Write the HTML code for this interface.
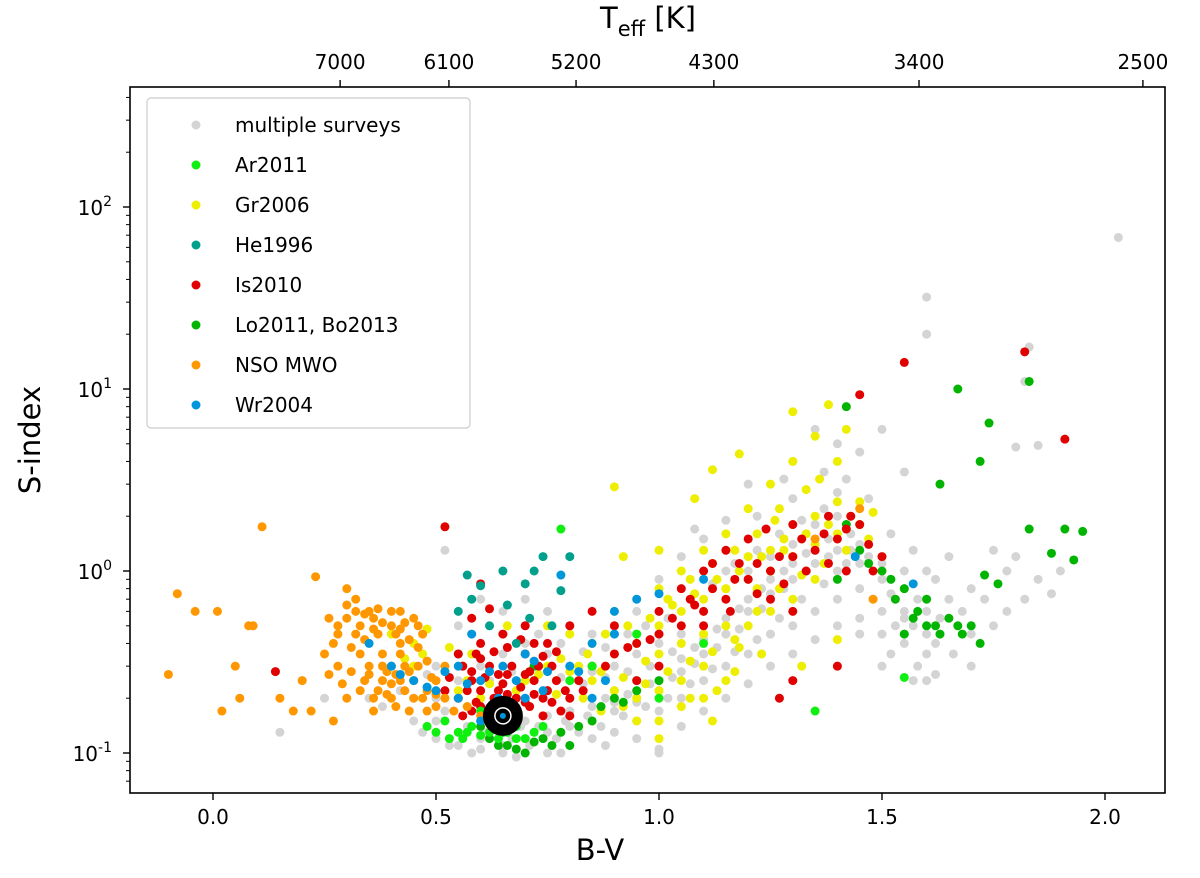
<!DOCTYPE html>
<html><head><meta charset="utf-8"><style>
html,body{margin:0;padding:0;background:#fff;}
svg{display:block;font-family:"DejaVu Sans","Liberation Sans",sans-serif;}
</style></head><body>
<svg id="chart" width="1200" height="878">
<rect x="130" y="87" width="1035" height="706" fill="#fff" stroke="#000" stroke-width="1.6"/>
<g id="marks"></g>
<g id="axes"></g>
<text x="600" y="860" font-size="29" text-anchor="middle">B-V</text>
<text x="0" y="0" font-size="29" text-anchor="middle" transform="translate(40,440) rotate(-90)">S-index</text>
<text x="648" y="28" font-size="29" text-anchor="middle">T<tspan font-size="21" dy="8">eff</tspan><tspan dy="-8"> [K]</tspan></text>
<g id="legend">
<rect x="147" y="98" width="323" height="330" rx="4" fill="#fff" fill-opacity="0.85" stroke="#ccc" stroke-width="1.2"/>
</g>
</svg>
<script>
const xTicks=[0.0,0.5,1.0,1.5,2.0];
const xTickLabels=["0.0","0.5","1.0","1.5","2.0"];
const yTickExps=[-1,0,1,2];
const topTickBV=[0.285,0.529,0.814,1.123,1.583,2.085];
const topTickLabels=["7000","6100","5200","4300","3400","2500"];
const legendLabels=["multiple surveys","Ar2011","Gr2006","He1996","Is2010","Lo2011, Bo2013","NSO MWO","Wr2004"];
const gray="0.45,0.2;0.5,0.15;0.55,0.13;0.6,0.12;0.65,0.11;0.7,0.12;0.75,0.13;0.8,0.14;0.85,0.15;0.9,0.17;0.95,0.19;1.0,0.22;1.05,0.28;1.1,0.35;1.15,0.45;1.2,0.6;1.25,0.75;1.3,0.9;1.35,1.1;1.4,1.3;1.45,1.4;1.5,1.1;1.55,0.8;1.6,0.6;1.65,0.7;1.55,0.4;1.6,0.35;1.5,0.6;1.45,0.8;1.4,0.7;1.35,0.6;1.3,0.5;1.25,0.45;1.2,0.35;1.15,0.3;1.1,0.25;1.05,0.2;1.0,0.17;0.95,0.15;0.9,0.13;0.85,0.12;0.8,0.11;0.75,0.1;0.7,0.1;0.65,0.1;0.6,0.105;0.55,0.11;0.5,0.12;0.45,0.15;0.6,0.3;0.65,0.35;0.7,0.4;0.75,0.35;0.8,0.3;0.85,0.28;0.9,0.3;0.95,0.35;1.0,0.4;1.05,0.45;1.1,0.6;1.15,0.8;1.2,1.0;1.25,1.2;1.3,1.4;1.35,1.8;1.4,2.0;1.45,1.8;1.0,0.9;1.05,1.2;1.1,1.5;1.15,1.0;0.7,0.2;0.75,0.22;0.8,0.2;0.85,0.2;0.9,0.22;0.95,0.25;0.65,0.18;0.6,0.2;0.55,0.25;0.5,0.3;0.55,0.5;0.6,0.7;0.65,0.6;0.52,1.3;1.6,1.0;1.7,0.8;1.75,0.5;1.8,1.2;1.82,0.7;1.85,0.9;1.9,1.0;1.6,32;1.6,20;1.83,17;1.82,11;1.8,4.8;1.85,4.9;2.03,68;1.55,3.5;1.45,4.5;1.5,6;1.4,5;1.35,6;1.3,4;1.2,3;1.62,0.27;1.58,0.3;1.45,0.45;1.0,0.1;1.0,0.105;1.4,2.7;1.3,2.5;0.7,0.7;0.75,0.6;0.8,0.5;0.85,0.45;0.9,0.5;0.95,0.6;0.6,0.15;0.65,0.15;0.7,0.15;0.75,0.16;0.8,0.17;0.85,0.18;0.9,0.19;1.0,0.25;1.05,0.33;1.1,0.42;1.15,0.55;1.2,0.7;1.25,0.9;1.3,1.1;1.35,1.3;1.4,1.0;1.45,1.1;1.5,0.9;1.55,0.6;1.6,0.45;1.5,0.45;1.55,0.55;0.5,0.2;0.45,0.25;0.4,0.3;0.35,0.2;0.15,0.13;0.25,0.2;0.2,0.25;0.52,0.17;0.57,0.14;0.61,0.13;0.63,0.16;0.67,0.12;0.69,0.14;0.71,0.11;0.73,0.14;0.77,0.12;0.79,0.15;0.82,0.13;0.84,0.16;0.87,0.14;0.88,0.2;0.92,0.16;0.93,0.21;0.97,0.18;0.98,0.24;1.02,0.2;1.03,0.26;1.07,0.24;1.08,0.31;1.12,0.29;1.13,0.38;1.17,0.36;1.18,0.48;1.22,0.42;1.23,0.62;1.27,0.55;1.28,0.8;1.32,0.7;1.33,1.0;1.37,0.85;1.38,1.2;1.42,1.1;1.43,1.6;1.47,1.2;1.48,0.7;1.52,0.75;1.53,0.5;1.57,0.5;1.58,0.7;1.62,0.4;1.63,0.55;1.66,0.35;1.68,0.6;1.7,0.45;1.73,0.7;1.78,1.0;1.52,0.35;1.57,0.25;1.6,0.25;0.72,0.3;0.78,0.26;0.83,0.24;0.88,0.26;0.93,0.28;0.98,0.3;1.03,0.36;1.08,0.38;1.13,0.48;1.18,0.62;1.23,0.8;1.28,1.0;1.33,1.25;1.38,1.5;1.43,1.3;0.62,0.25;0.67,0.28;0.73,0.45;0.78,0.4;0.83,0.36;0.88,0.38;0.93,0.45;0.97,0.5;1.02,0.55;1.07,0.7;1.12,0.85;1.17,1.1;1.22,1.3;1.27,1.6;1.32,1.9;1.37,2.2;0.48,0.27;0.42,0.22;0.38,0.18;0.47,0.13;0.53,0.11;0.58,0.1;0.68,0.095;0.78,0.1;0.88,0.11;0.95,0.12;1.05,0.14;1.1,0.17;1.15,0.2;1.2,0.24;1.25,0.3;1.3,0.35;1.35,0.42;1.4,0.5;1.45,0.55;1.5,0.3;1.55,1.0;1.47,2.5;1.42,3.2;1.37,3.5;1.28,3.2;1.22,2.0;1.15,1.9;1.08,1.7;1.65,1.2;1.75,1.3;1.78,0.6;1.88,0.75;1.62,0.9;1.7,0.3;1.52,1.6;1.57,1.3";
const ar2011="0.5,0.13;0.55,0.13;0.58,0.14;0.62,0.13;0.66,0.13;0.7,0.12;0.74,0.14;0.56,0.12;0.52,0.15;0.65,0.17;0.8,0.25;0.85,0.3;0.95,0.45;0.78,1.7;1.0,0.2;1.35,0.17;1.55,0.26;1.1,0.4;0.6,0.17;0.68,0.14;0.53,0.12;0.57,0.13;0.6,0.125;0.64,0.12;0.68,0.12;0.72,0.13;0.48,0.14";
const gr2006="0.45,0.3;0.5,0.25;0.55,0.22;0.6,0.2;0.7,0.25;0.75,0.3;0.8,0.28;0.85,0.25;0.9,0.22;0.95,0.2;1.0,0.22;1.05,0.25;1.1,0.3;0.9,0.35;0.95,0.4;1.0,0.5;1.05,0.6;1.1,0.7;1.15,0.8;1.2,0.9;1.25,1.0;1.3,1.2;1.35,1.4;1.4,1.6;1.45,1.8;1.3,0.7;1.25,0.6;1.2,0.5;1.15,0.5;1.1,0.45;1.05,0.4;1.0,0.35;0.85,0.4;0.8,0.45;0.75,0.5;0.9,0.6;1.0,0.8;1.05,1.0;1.1,1.3;1.15,1.6;1.2,2.2;1.25,3;1.3,4;1.35,5.5;1.3,7.5;1.38,8.2;1.42,6;1.4,4;1.18,4.4;1.12,3.6;1.08,2.5;1.0,1.3;0.92,1.2;0.9,2.9;1.0,0.15;1.05,0.18;1.1,0.2;1.15,0.25;0.95,0.15;0.84,0.35;0.45,0.4;0.4,0.45;1.48,2.1;1.45,2.4;1.35,2.0;1.2,1.2;1.28,1.5;1.22,0.8;1.4,0.42;1.32,0.3;1.12,0.15;1.0,0.12;0.58,0.35;0.66,0.5;1.35,0.9;0.47,0.35;0.52,0.28;0.57,0.25;0.62,0.24;0.68,0.22;0.73,0.27;0.78,0.33;0.82,0.3;0.87,0.28;0.92,0.26;0.97,0.24;1.02,0.28;1.07,0.32;1.12,0.36;1.17,0.42;1.22,0.6;1.27,0.8;1.32,0.95;1.37,1.1;1.42,1.3;1.47,1.5;0.88,0.45;0.93,0.5;0.98,0.55;1.03,0.65;1.08,0.75;1.13,0.9;1.18,1.0;1.23,1.2;1.28,1.3;1.33,1.6;1.38,1.8;1.43,2.0;1.27,2.2;1.22,1.6;1.17,1.3;1.12,1.1;1.07,0.9;1.02,0.7;0.97,0.32;0.92,0.18;0.87,0.17;1.07,0.2;1.13,0.22;1.17,0.28;1.23,0.35;1.18,0.38;0.43,0.33;0.48,0.48;0.53,0.38;1.4,2.4;1.33,2.8;1.26,1.9;1.36,3.2;1.25,1.3;0.83,0.2;0.77,0.21";
const he1996="0.55,0.6;0.58,0.7;0.62,0.5;0.6,0.83;0.7,0.85;0.72,1.0;0.74,1.2;0.65,1.0;0.78,0.78;0.8,1.2;0.68,0.4;0.76,0.5;0.57,0.95;0.66,0.65;0.71,0.55";
const is2010="0.55,0.2;0.58,0.25;0.6,0.18;0.62,0.3;0.64,0.22;0.66,0.27;0.68,0.2;0.7,0.35;0.72,0.25;0.74,0.2;0.76,0.3;0.78,0.17;0.6,0.4;0.65,0.45;0.7,0.5;0.62,0.15;0.68,0.15;0.74,0.16;0.8,0.2;0.56,0.3;0.52,0.22;0.82,0.25;0.85,0.3;0.9,0.35;0.95,0.4;1.0,0.45;1.05,0.5;1.1,0.6;1.15,0.7;1.2,0.9;1.25,1.0;1.3,1.2;1.35,1.3;1.4,1.5;1.45,1.8;1.1,1.0;1.15,1.3;1.2,1.5;1.25,0.7;1.3,0.6;1.0,0.6;1.05,0.8;1.1,0.5;0.9,0.5;0.85,0.6;0.8,0.5;0.75,0.4;0.6,0.85;0.62,0.62;0.52,1.75;0.14,0.28;0.7,0.19;0.66,0.19;0.72,0.4;1.55,14;1.82,16;1.91,5.3;1.45,9.3;1.27,0.2;1.3,0.25;1.4,0.3;1.5,1.2;1.38,2.0;1.42,1.0;1.18,1.1;1.0,0.3;0.95,0.25;0.58,0.17;0.6,0.22;0.64,0.18;0.56,0.16;0.59,0.19;0.61,0.26;0.63,0.2;0.65,0.24;0.67,0.3;0.69,0.23;0.71,0.18;0.73,0.3;0.75,0.22;0.77,0.25;0.79,0.22;0.57,0.22;0.6,0.33;0.63,0.36;0.66,0.38;0.69,0.42;0.71,0.28;0.74,0.34;0.77,0.36;0.53,0.26;0.55,0.35;0.58,0.28;0.64,0.27;0.72,0.21;0.8,0.16;0.83,0.22;0.88,0.3;0.93,0.38;0.98,0.42;1.03,0.55;1.08,0.65;1.12,0.8;1.17,0.9;1.22,1.1;1.27,1.2;1.32,1.5;1.37,1.6;1.42,1.7;1.47,1.4;1.22,0.75;1.28,0.85;1.33,1.0;1.38,1.1;1.16,0.6;1.12,1.1;1.07,0.7;1.24,1.7;1.3,1.8;1.43,2.0;1.48,1.0;0.62,0.17;0.68,0.17;0.76,0.19;0.66,0.21;0.59,0.35;0.7,0.27;0.58,0.55";
const lo2011="0.62,0.12;0.66,0.11;0.7,0.1;0.74,0.12;0.78,0.13;0.8,0.11;0.85,0.15;0.9,0.2;0.95,0.22;1.0,0.25;1.42,1.8;1.45,1.3;1.5,1.0;1.52,0.9;1.55,0.8;1.58,0.6;1.6,0.5;1.62,0.5;1.65,0.55;1.7,0.5;1.72,0.4;1.73,0.95;1.76,0.85;1.72,4.0;1.74,6.5;1.67,10;1.83,11;1.63,3.0;1.83,1.7;1.88,1.25;1.91,1.7;1.93,1.15;1.95,1.65;1.42,8.0;1.6,0.7;1.4,0.9;0.55,0.35;0.72,0.3;1.55,0.45;1.68,0.45;0.64,0.11;0.68,0.105;0.72,0.115;0.76,0.11;0.82,0.14;0.87,0.18;0.92,0.19;1.47,1.1;1.53,0.7;1.57,0.55;1.63,0.45;1.67,0.5;0.6,0.14;0.65,0.13";
const nso="-0.1,0.27;-0.08,0.75;-0.04,0.6;0.01,0.6;0.02,0.17;0.05,0.3;0.06,0.2;0.08,0.5;0.09,0.5;0.11,1.75;0.15,0.2;0.2,0.25;0.22,0.17;0.23,0.93;0.25,0.35;0.28,0.5;0.3,0.8;0.32,0.7;0.3,0.55;0.33,0.5;0.35,0.6;0.37,0.45;0.4,0.5;0.42,0.4;0.45,0.55;0.35,0.3;0.38,0.35;0.4,0.3;0.42,0.25;0.45,0.2;0.48,0.22;0.5,0.18;0.44,0.17;0.38,0.25;0.33,0.22;0.3,0.2;0.27,0.15;0.36,0.2;0.4,0.2;0.46,0.3;0.5,0.25;0.55,0.2;0.52,0.3;0.34,0.42;0.28,0.3;0.26,0.55;0.36,0.55;0.42,0.48;0.47,0.45;0.31,0.38;0.39,0.28;0.43,0.22;0.6,0.16;1.45,2.2;1.35,1.5;1.48,0.7;0.18,0.17;0.4,0.6;0.28,0.45;0.3,0.65;0.32,0.45;0.34,0.58;0.36,0.48;0.38,0.52;0.41,0.45;0.43,0.52;0.44,0.42;0.46,0.5;0.33,0.35;0.35,0.27;0.37,0.22;0.39,0.21;0.41,0.27;0.43,0.3;0.45,0.25;0.47,0.2;0.49,0.26;0.41,0.18;0.36,0.17;0.48,0.17;0.5,0.21;0.44,0.28;0.4,0.24;0.38,0.3;0.34,0.25;0.31,0.28;0.29,0.24;0.26,0.27;0.42,0.35;0.46,0.38;0.48,0.32;0.52,0.2;0.54,0.17;0.57,0.18;0.32,0.6;0.37,0.62;0.42,0.6;0.27,0.4";
const wr2004="0.35,0.4;0.4,0.3;0.45,0.25;0.5,0.22;0.55,0.2;0.6,0.25;0.65,0.3;0.7,0.35;0.75,0.28;0.8,0.3;0.85,0.4;0.9,0.6;0.95,0.7;0.85,0.2;0.6,0.15;0.7,0.2;0.58,0.45;0.78,0.95;1.0,0.75;1.1,0.9;1.44,1.2;1.57,0.85;0.66,0.17;0.88,0.25;0.55,0.3;0.62,0.28;0.68,0.25;0.72,0.32;0.57,0.24;0.52,0.28;0.48,0.23;0.42,0.27;0.64,0.2;0.74,0.22;0.82,0.28;0.9,0.45";
const sunBV=0.65, sunS=0.16;

const NS="http://www.w3.org/2000/svg";
const X0=213, XS=446, Y0=571, YD=182;
function xs(v){return X0+v*XS;}
function ys(s){return Y0-Math.log10(s)*YD;}
function mk(tag,attrs,parent){const e=document.createElementNS(NS,tag);for(const k in attrs)e.setAttribute(k,attrs[k]);parent.appendChild(e);return e;}
function parse(str){return str.split(";").map(p=>p.split(",").map(Number));}
const marks=document.getElementById("marks"), axes=document.getElementById("axes");
const series=[["multiple-surveys",gray,"#d4d4d4"],["gr2006",gr2006,"#eeee00"],["lo2011-bo2013",lo2011,"#00b400"],["is2010",is2010,"#e00000"],["he1996",he1996,"#00a08c"],["ar2011",ar2011,"#10f010"],["nso-mwo",nso,"#ff9800"],["wr2004",wr2004,"#0096dc"]];
for(const [name,data,col] of series){
  const g=mk("g",{},marks);
  
  
  for(const [b,s] of parse(data)){
    const c=mk("circle",{cx:xs(b),cy:ys(s),r:4.5,fill:col},g);
    
    
  }
}
const sun=mk("g",{},marks);


mk("circle",{cx:xs(sunBV),cy:ys(sunS),r:20,fill:"#000"},sun);
mk("circle",{cx:xs(sunBV),cy:ys(sunS),r:8,fill:"none",stroke:"#fff","stroke-width":1.5},sun);
mk("circle",{cx:xs(sunBV),cy:ys(sunS),r:3,fill:"#0096dc"},sun);

xTicks.forEach((v,i)=>{
  mk("line",{x1:xs(v),x2:xs(v),y1:793,y2:800,stroke:"#000","stroke-width":1.4},axes);
  const t=mk("text",{x:xs(v),y:824,"font-size":20,"text-anchor":"middle"},axes);
  t.textContent=xTickLabels[i];
  
  
});
topTickBV.forEach((v,i)=>{
  mk("line",{x1:xs(v),x2:xs(v),y1:87,y2:80,stroke:"#000","stroke-width":1.4},axes);
  const t=mk("text",{x:xs(v),y:69,"font-size":20,"text-anchor":"middle"},axes);
  t.textContent=topTickLabels[i];
  
  
});
yTickExps.forEach(e=>{
  const y=ys(Math.pow(10,e));
  mk("line",{x1:123,x2:130,y1:y,y2:y,stroke:"#000","stroke-width":1.4},axes);
  const t=mk("text",{x:112,y:y+8,"font-size":20,"text-anchor":"end"},axes);
  t.innerHTML='10<tspan font-size="14" dy="-9">'+e+'</tspan>';
  
  
});
for(let e=-2;e<=2;e++)for(let m=2;m<=9;m++){
  const y=ys(m*Math.pow(10,e));
  if(y<87||y>793)continue;
  mk("line",{x1:126,x2:130,y1:y,y2:y,stroke:"#000","stroke-width":1},axes);
}
const leg=document.getElementById("legend");
const legendKeys=["multiple-surveys","ar2011","gr2006","he1996","is2010","lo2011-bo2013","nso-mwo","wr2004"];
legendLabels.forEach((lab,i)=>{
  const y=125+i*40;
  mk("circle",{cx:196,cy:y,r:4.5,fill:series.find(s=>s[0]===legendKeys[i])[2]},leg);
  const t=mk("text",{x:235,y:y+7,"font-size":20},leg);
  t.textContent=lab;
  
  
});
</script>
</body></html>
